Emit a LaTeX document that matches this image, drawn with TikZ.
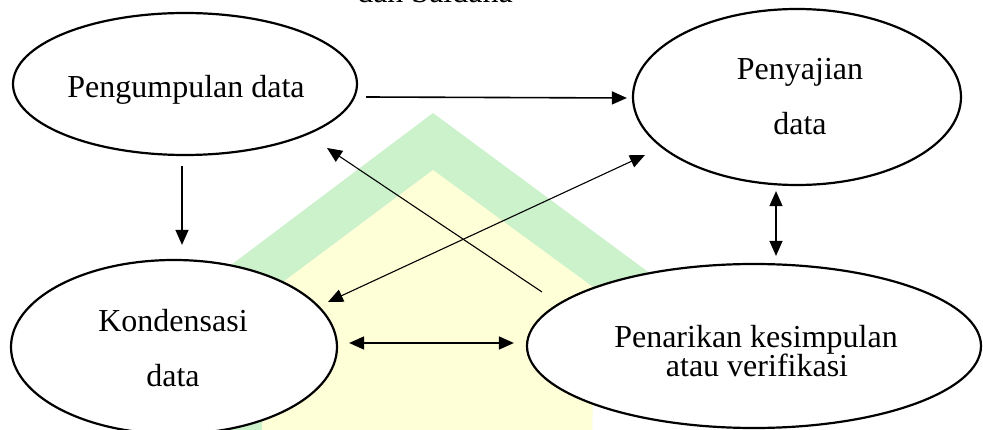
\documentclass[tikz,border=0pt]{standalone}
\usepackage{fontspec}
\setmainfont{Liberation Serif}
\usetikzlibrary{shapes.geometric,arrows.meta}
\definecolor{wmgreen}{RGB}{204,242,204}
\definecolor{wmyellow}{RGB}{255,255,215}
\begin{document}
\begin{tikzpicture}[x=1pt,y=-1pt,
  oval/.style={ellipse, draw, line width=2.2pt, fill=white, inner sep=0pt},
  lbl/.style={font=\fontsize{32}{38}\selectfont, inner sep=0pt, anchor=base},
  tip/.tip={Triangle[length=15pt,width=13pt]},
  arr/.style={line width=1.2pt, -tip},
  darr/.style={line width=1.2pt, tip-tip},
]
\useasboundingbox (0,0) rectangle (983,430);
\clip (0,0) rectangle (983,430);
% watermark
\fill[wmgreen] (433,113) -- (231,265) -- (231,430) -- (592,430) -- (592,300) -- (655,277) -- cycle;
\fill[wmyellow] (433,170) -- (267,294) -- (262,430) -- (592,430) -- (597,290) -- cycle;
% top caption (cut off)
\node[lbl] (cap) at (435,3) {dan Saldana};
% ellipses
\node[oval, minimum width=344pt, minimum height=142pt] (peng) at (185,84) {};
\node[oval, minimum width=328pt, minimum height=176pt] (peny) at (797,97) {};
\node[oval, minimum width=326pt, minimum height=174pt] (kond) at (174,347) {};
\node[oval, minimum width=454pt, minimum height=164pt] (pen) at (754,346) {};
% texts
\node[lbl] (t1) at (186,98) {Pengumpulan data};
\node[lbl] (t2) at (800,80) {Penyajian};
\node[lbl] (t3) at (800,135) {data};
\node[lbl] (t4) at (173,332) {Kondensasi};
\node[lbl] (t5) at (173,387) {data};
\node[lbl] (t6) at (756,348) {Penarikan kesimpulan};
\node[lbl] (t7) at (757,377) {atau verifikasi};
% connectors
\draw[arr, line width=1.6pt] ([shift={(8,13)}]peng.east) -- ([shift={(-5,1)}]peny.west);
\draw[arr, line width=1.3pt] ([shift={(-3,10)}]peng.south) -- ([shift={(8,-14)}]kond.north);
\draw[arr, line width=1.1pt] ([shift={(-212,-54)}]pen.center) -- ([shift={(142,64)}]peng.center);
\draw[darr, line width=1.1pt] ([shift={(154,-45)}]kond.center) -- ([shift={(-152,58)}]peny.center);
\draw[darr, line width=1.6pt] ([shift={(11,-4)}]kond.east) -- ([shift={(-12,-3)}]pen.west);
\draw[darr, line width=1.3pt] ([shift={(-21,5)}]peny.south) -- ([shift={(22,-7)}]pen.north);
\end{tikzpicture}
\end{document}
